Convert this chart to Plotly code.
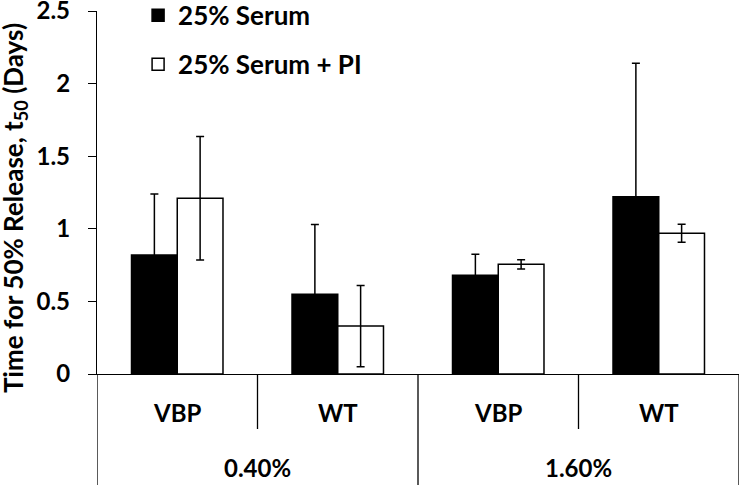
import plotly.graph_objects as go

# ---- data ----
groups = ["0.40%", "0.40%", "1.60%", "1.60%"]
types = ["VBP", "WT", "VBP", "WT"]
serum = [0.82, 0.55, 0.68, 1.22]
serum_err = [0.42, 0.48, 0.145, 0.92]
serum_pi = [1.21, 0.33, 0.755, 0.97]
serum_pi_err = [0.425, 0.28, 0.032, 0.062]
series_names = ["25% Serum", "25% Serum + PI"]
y_title = "Time for 50% Release, t<sub>50</sub> (Days)"

FONT = "Lato"
FS = 24
x_keys = [f"{g} {t}" for g, t in zip(groups, types)]

fig = go.Figure()
fig.add_trace(go.Bar(
    x=x_keys, y=serum, name=f"<b>{series_names[0]}</b>", legendgroup="a",
    marker=dict(color="black", line=dict(color="black", width=1.5)),
    error_y=dict(type="data", array=serum_err, color="black", thickness=1.5, width=4),
))
fig.add_trace(go.Bar(
    x=x_keys, y=serum_pi, name=f"<b>{series_names[1]}</b>", legendgroup="b",
    marker=dict(color="white", line=dict(color="black", width=1.5)),
    error_y=dict(type="data", array=serum_pi_err, color="black", thickness=1.5, width=4),
))

annotations = []
for k, t in zip(x_keys, types):
    annotations.append(dict(x=k, xref="x", y=0, yref="paper", yshift=-38,
                            text=f"<b>{t}</b>", showarrow=False, yanchor="middle",
                            font=dict(family=FONT, size=FS, color="black")))
uniq = []
for g in groups:
    if g not in uniq:
        uniq.append(g)
for g in uniq:
    idx = [i for i, gg in enumerate(groups) if gg == g]
    annotations.append(dict(x=sum(idx) / len(idx), xref="x", y=0, yref="paper",
                            yshift=-93, text=f"<b>{g}</b>", showarrow=False, yanchor="middle",
                            font=dict(family=FONT, size=FS, color="black")))
# y-axis title
annotations.append(dict(x=0, xref="paper", xshift=-83, y=0.457, yref="paper",
                        text=f"<b>{y_title}</b>", textangle=-90, showarrow=False,
                        xanchor="center", yanchor="middle",
                        font=dict(family=FONT, size=26, color="black")))

shapes = []
n = len(x_keys)
for i in range(n + 1):
    pos = i - 0.5
    is_outer = i == 0 or i == n or groups[i] != groups[i - 1]
    shapes.append(dict(type="line", xref="x", yref="paper", x0=pos, x1=pos,
                       y0=0, y1=-111 / 363 if is_outer else -55 / 363,
                       line=dict(color="black", width=1.3)))

fig.update_layout(
    width=740, height=485,
    margin=dict(l=97, r=1, t=11, b=111, autoexpand=False),
    plot_bgcolor="white", paper_bgcolor="white",
    barmode="group", bargap=0.43, bargroupgap=0,
    font=dict(family=FONT, color="black"),
    showlegend=True,
    legend=dict(x=0.064, y=1.0525, xanchor="left", yanchor="top",
                font=dict(family=FONT, size=26, color="black"),
                tracegroupgap=12, bgcolor="rgba(0,0,0,0)"),
    annotations=annotations,
    shapes=shapes,
)
fig.update_xaxes(showticklabels=False, ticks="", showline=True, linecolor="black",
                 linewidth=1.3, showgrid=False, range=[-0.5, n - 0.5], automargin=False)
fig.update_yaxes(range=[0, 2.5], dtick=0.5, showgrid=False, zeroline=False,
                 showline=True, linecolor="black", linewidth=1.3,
                 ticks="outside", ticklen=8, tickcolor="black", tickwidth=1.3,
                 ticklabelstandoff=13, automargin=False, ticklabeloverflow="allow",
                 tickfont=dict(family=FONT, size=FS, color="black"),
                 tickprefix="<b>", ticksuffix="</b>")

fig.write_html("out.html", config={"displayModeBar": False},
               post_script="document.body.style.margin='0';")
